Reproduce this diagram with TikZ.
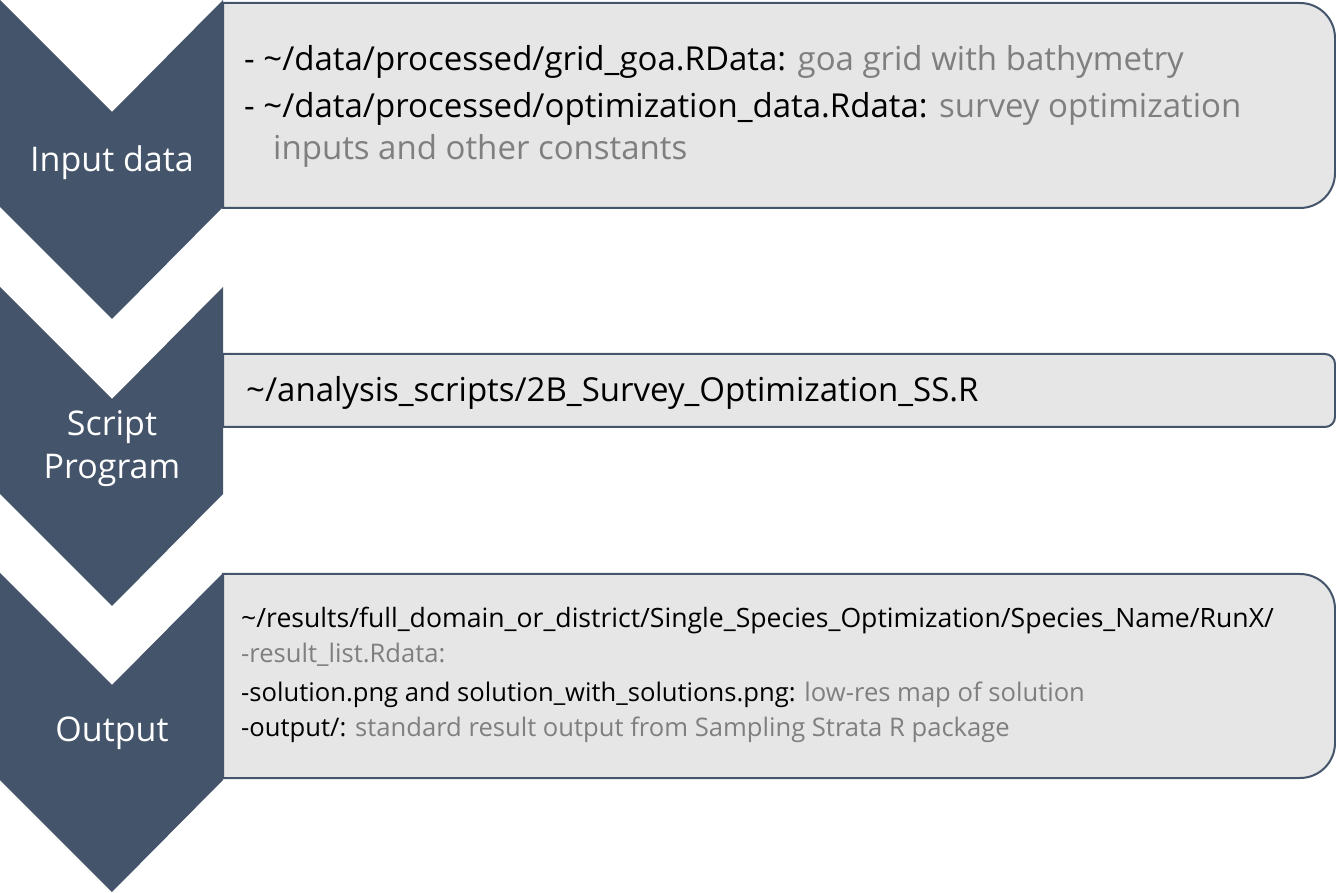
\documentclass[tikz,border=0pt]{standalone}
\usepackage{fontspec}
\setmainfont{Open Sans}
\definecolor{chev}{HTML}{44546A}
\definecolor{boxfill}{HTML}{E7E6E6}
\definecolor{graytext}{HTML}{7F7F7F}
\begin{document}
\begin{tikzpicture}[x=1pt,y=1pt,
  chevron/.style={fill=chev,draw=none},
  infobox/.style={fill=boxfill,draw=chev,line width=2pt},
  label/.style={text=white,font=\fontsize{34}{43}\selectfont,inner sep=0pt},
  big/.style={anchor=base west,inner sep=0pt,font=\fontsize{33}{40}\selectfont},
  small/.style={anchor=base west,inner sep=0pt,font=\fontsize{25.6}{30}\selectfont}]
\useasboundingbox (0,0) rectangle (1336,892);
% boxes
\draw[infobox] (223,684) -- (223,889) -- (1300,889) arc[start angle=90,end angle=0,radius=35]
  -- (1335,719) arc[start angle=0,end angle=-90,radius=35] -- cycle;
\draw[infobox] (223,465) -- (223,538) -- (1325,538) arc[start angle=90,end angle=0,radius=10]
  -- (1335,475) arc[start angle=0,end angle=-90,radius=10] -- cycle;
\draw[infobox] (223,114) -- (223,318) -- (1300,318) arc[start angle=90,end angle=0,radius=35]
  -- (1335,149) arc[start angle=0,end angle=-90,radius=35] -- cycle;
% chevrons
\foreach \t in {892,605,319}{
  \fill[chevron] (0,\t) -- (112,\t-112) -- (223,\t) -- (223,\t-207) -- (112,\t-319) -- (0,\t-207) -- cycle;
}
% chevron labels
\node[label,anchor=base] (in) at (112,720) {Input data};
\node[label,anchor=center,align=center] (sp) at (112,443) {Script\\Program};
\node[label,anchor=base] (out) at (112,150) {Output};
% box 1 text
\node[big] (l1) at (244,821) {- \textasciitilde/data/processed/grid\_goa.RData: \textcolor{graytext}{goa grid with bathymetry}};
\node[big] (l2) at (244,774) {- \textasciitilde/data/processed/optimization\_data.Rdata: \textcolor{graytext}{survey optimization}};
\node[big] (l3) at (273,732) {\textcolor{graytext}{inputs and other constants}};
% box 2 text
\node[big] (s1) at (246,490) {\textasciitilde/analysis\_scripts/2B\_Survey\_Optimization\_SS.R};
% box 3 text
\node[small] (o1) at (241,264) {\fontsize{26.6}{30}\selectfont\textasciitilde/results/full\_domain\_or\_district/Single\_Species\_Optimization/Species\_Name/RunX/};
\node[small] (o2) at (241,229) {\textcolor{graytext}{-result\_list.Rdata:}};
\node[small] (o3) at (241,190) {-solution.png and solution\_with\_solutions.png: \textcolor{graytext}{low-res map of solution}};
\node[small] (o4) at (241,155) {-output/: \textcolor{graytext}{standard result output from Sampling Strata R package}};
\end{tikzpicture}
\end{document}
